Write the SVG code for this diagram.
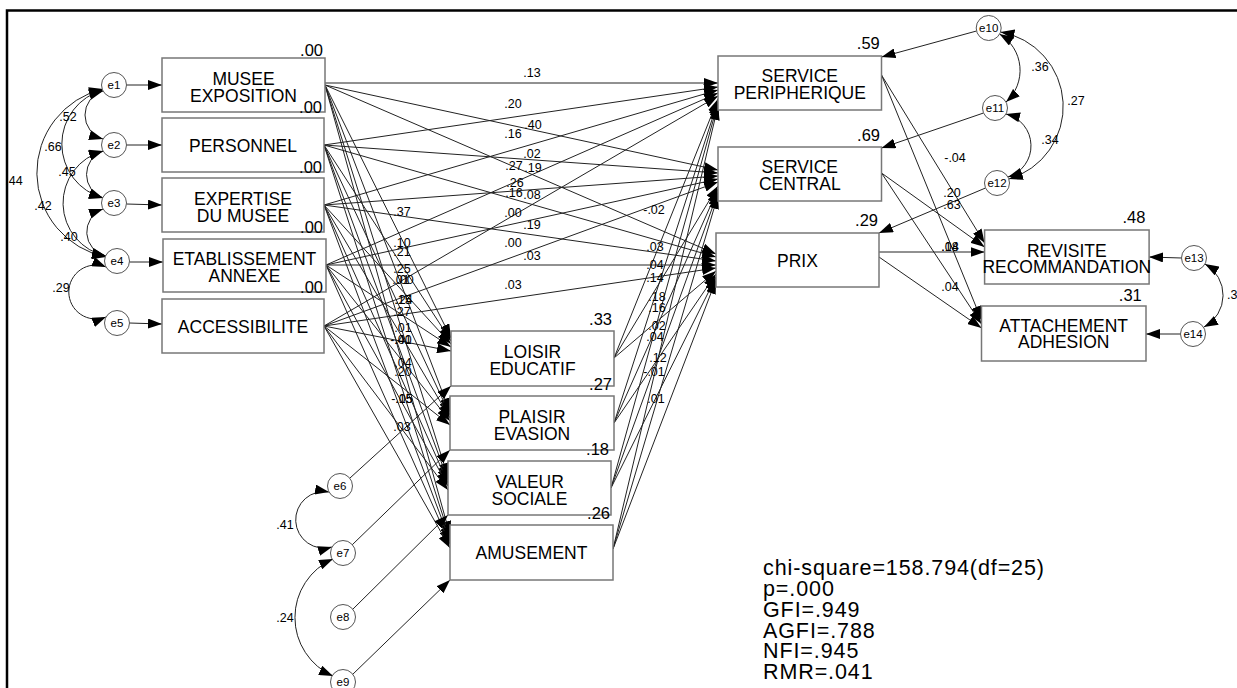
<svg xmlns="http://www.w3.org/2000/svg" width="1237" height="688" viewBox="0 0 1237 688">
<defs>
<marker id="ah" viewBox="0 0 14 10" refX="14" refY="5" markerWidth="14" markerHeight="10" markerUnits="userSpaceOnUse" orient="auto-start-reverse"><path d="M0,0 L14,5 L0,10 z" fill="#000"/></marker>
<style>
text{font-family:"Liberation Sans",Arial,sans-serif;fill:#000}
.box{fill:#fff;stroke:#777;stroke-width:1.5}
.bl{font-size:17.5px;text-anchor:middle}
.r2{font-size:16.5px;text-anchor:end}
.pl{font-size:12.5px;text-anchor:middle}
.ec{fill:#fff;stroke:#555;stroke-width:1}
.et{font-size:11.5px;text-anchor:middle}
.p{stroke:#222;stroke-width:1;fill:none;marker-end:url(#ah)}
.cv{stroke:#222;stroke-width:1;fill:none;marker-start:url(#ah);marker-end:url(#ah)}
.fit{font-size:21.5px;letter-spacing:0.9px}
</style>
</defs>
<rect x="0" y="0" width="1237" height="688" fill="#fff"/>
<g id="frame"><path d="M7,688 L7,10.5 L1237,10.5" fill="none" stroke="#000" stroke-width="2.5"/></g>

<g id="connectors">
<!-- error arrows left -->
<line class="p" x1="126.5" y1="85" x2="162" y2="85"/>
<line class="p" x1="126.5" y1="145" x2="162" y2="145"/>
<line class="p" x1="126.5" y1="204" x2="162" y2="205"/>
<line class="p" x1="129.5" y1="262" x2="163" y2="262"/>
<line class="p" x1="129.5" y1="323" x2="162" y2="324"/>
<!-- covariances left -->
<path class="cv" d="M103,91 A25,25 0 0 0 103,139"/>
<path class="cv" d="M103,90 A56,56 0 0 0 103,198"/>
<path class="cv" d="M103,89 A86,86 0 0 0 106,257"/>
<path class="cv" d="M103,151 A25,25 0 0 0 103,198"/>
<path class="cv" d="M103,151 A54,54 0 0 0 106,256"/>
<path class="cv" d="M103,209 A24.5,24.5 0 0 0 106,256"/>
<path class="cv" d="M106,267 A27,27 0 1 0 106,317"/>
<!-- exogenous to service peripherique -->
<line class="p" x1="325" y1="83" x2="718" y2="83"/>
<line class="p" x1="324" y1="145" x2="718" y2="87"/>
<line class="p" x1="324" y1="205" x2="718" y2="90"/>
<line class="p" x1="326" y1="265" x2="718" y2="93"/>
<line class="p" x1="324" y1="326" x2="718" y2="96"/>
<!-- to service central -->
<line class="p" x1="325" y1="85" x2="718" y2="170"/>
<line class="p" x1="324" y1="145" x2="718" y2="173"/>
<line class="p" x1="324" y1="205" x2="718" y2="176"/>
<line class="p" x1="326" y1="265" x2="718" y2="179"/>
<line class="p" x1="324" y1="326" x2="718" y2="182"/>
<!-- to prix -->
<line class="p" x1="325" y1="85" x2="716" y2="254"/>
<line class="p" x1="324" y1="145" x2="716" y2="257"/>
<line class="p" x1="324" y1="205" x2="716" y2="261"/>
<line class="p" x1="326" y1="265" x2="716" y2="265"/>
<line class="p" x1="324" y1="326" x2="716" y2="268"/>
<!-- to loisir -->
<line class="p" x1="325" y1="85" x2="451" y2="338"/>
<line class="p" x1="324" y1="145" x2="451" y2="341"/>
<line class="p" x1="324" y1="205" x2="451" y2="344"/>
<line class="p" x1="326" y1="265" x2="451" y2="347"/>
<line class="p" x1="324" y1="326" x2="451" y2="351"/>
<!-- to plaisir -->
<line class="p" x1="325" y1="85" x2="450" y2="412"/>
<line class="p" x1="324" y1="145" x2="450" y2="415"/>
<line class="p" x1="324" y1="205" x2="450" y2="418"/>
<line class="p" x1="326" y1="265" x2="450" y2="421"/>
<line class="p" x1="324" y1="326" x2="450" y2="425"/>
<!-- to valeur -->
<line class="p" x1="325" y1="85" x2="448" y2="477"/>
<line class="p" x1="324" y1="145" x2="448" y2="480"/>
<line class="p" x1="324" y1="205" x2="448" y2="483"/>
<line class="p" x1="326" y1="265" x2="448" y2="486"/>
<line class="p" x1="324" y1="326" x2="448" y2="490"/>
<!-- to amusement -->
<line class="p" x1="325" y1="85" x2="450" y2="535"/>
<line class="p" x1="324" y1="145" x2="450" y2="538"/>
<line class="p" x1="324" y1="205" x2="450" y2="541"/>
<line class="p" x1="326" y1="265" x2="450" y2="544"/>
<line class="p" x1="324" y1="326" x2="450" y2="548"/>
<!-- mediators to right column -->
<line class="p" x1="614" y1="358" x2="718" y2="99"/>
<line class="p" x1="614" y1="423" x2="718" y2="101"/>
<line class="p" x1="611" y1="488" x2="718" y2="103"/>
<line class="p" x1="613" y1="549" x2="718" y2="106"/>
<line class="p" x1="614" y1="358" x2="718" y2="186"/>
<line class="p" x1="614" y1="423" x2="718" y2="189"/>
<line class="p" x1="611" y1="488" x2="718" y2="192"/>
<line class="p" x1="613" y1="549" x2="718" y2="195"/>
<line class="p" x1="614" y1="358" x2="716" y2="271"/>
<line class="p" x1="614" y1="423" x2="716" y2="274"/>
<line class="p" x1="611" y1="488" x2="716" y2="277"/>
<line class="p" x1="613" y1="549" x2="716" y2="280"/>
<!-- error arrows bottom -->
<line class="p" x1="350" y1="478" x2="451" y2="386"/>
<line class="p" x1="352" y1="545" x2="450" y2="450"/>
<line class="p" x1="352" y1="610" x2="448" y2="515"/>
<line class="p" x1="352" y1="675" x2="450" y2="580"/>
<path class="cv" d="M329,492 A28.3,28.3 0 1 0 332,547"/>
<path class="cv" d="M333,559 A64,64 0 0 0 333,676"/>
<!-- right column to outcomes -->
<line class="p" x1="881.5" y1="75" x2="984.6" y2="243"/>
<line class="p" x1="881.5" y1="75" x2="981.5" y2="320"/>
<line class="p" x1="881.5" y1="173" x2="984.6" y2="247"/>
<line class="p" x1="881.5" y1="173" x2="981.5" y2="324"/>
<line class="p" x1="879" y1="252" x2="984.6" y2="252"/>
<line class="p" x1="879" y1="257" x2="981.5" y2="328"/>
<!-- error arrows right -->
<line class="p" x1="976.5" y1="31" x2="881.5" y2="57"/>
<line class="p" x1="983.5" y1="113" x2="881.5" y2="148"/>
<line class="p" x1="985.5" y1="188" x2="879" y2="233"/>
<line class="p" x1="1181.5" y1="258" x2="1149" y2="257"/>
<line class="p" x1="1180.5" y1="334" x2="1146" y2="334"/>
<path class="cv" d="M999.5,34 A42.5,42.5 0 0 1 1006,102"/>
<path class="cv" d="M1006,114 A32.7,32.7 0 0 1 1008,177"/>
<path class="cv" d="M1000.5,32 A75.6,75.6 0 0 1 1009,179"/>
<path class="cv" d="M1205,264 A36,36 0 0 1 1204,327"/>
</g>

<g id="path-labels" class="pl">
<text x="68" y="121">.52</text><text x="53" y="151">.66</text><text x="14" y="185">.44</text>
<text x="67" y="176">.45</text><text x="43" y="210">.42</text><text x="69" y="241">.40</text><text x="61" y="292">.29</text>
<text x="532" y="77">.13</text><text x="513" y="108">.20</text><text x="533" y="129">.40</text>
<text x="513" y="138">.16</text><text x="532" y="158">.02</text><text x="514" y="170">.27</text>
<text x="533" y="172">.19</text><text x="515" y="187">.26</text><text x="514" y="197">.16</text>
<text x="532" y="199">.08</text><text x="513" y="217">.00</text><text x="532" y="229">.19</text>
<text x="513" y="247">.00</text><text x="532" y="260">.03</text><text x="513" y="289">.03</text>
<text x="402" y="216">.37</text><text x="402" y="247">.10</text><text x="402" y="256">.21</text>
<text x="402" y="273">.25</text><text x="401" y="284">.01</text><text x="405" y="284">.00</text>
<text x="403" y="304">.15</text><text x="404" y="304">.24</text><text x="402" y="316">.27</text>
<text x="403" y="332">.01</text><text x="403" y="344">.40</text><text x="401" y="344">-.01</text>
<text x="403" y="367">.04</text><text x="403" y="376">.20</text><text x="402" y="403">-.15</text>
<text x="404" y="403">.05</text><text x="402" y="431">.03</text>
<text x="654" y="214">-.02</text><text x="655" y="251">.03</text><text x="655" y="269">.04</text>
<text x="655" y="282">.14</text><text x="657" y="301">.18</text><text x="657" y="312">.16</text>
<text x="657" y="330">.02</text><text x="655" y="341">.04</text><text x="658" y="362">.12</text>
<text x="654" y="376">-.01</text><text x="656" y="403">.01</text>
<text x="955" y="162">-.04</text><text x="952" y="197">.20</text><text x="952" y="209">.63</text>
<text x="950" y="251">.14</text><text x="950" y="251">.08</text><text x="950" y="291">.04</text>
<text x="1040" y="71">.36</text><text x="1076" y="105">.27</text><text x="1050" y="144">.34</text>
<text x="285" y="529">.41</text><text x="285" y="622">.24</text>
<text x="1227" y="299" style="text-anchor:start">.3</text>
</g>

<g id="e1"><circle class="ec" cx="114" cy="85" r="12.5"/><text class="et" x="114" y="89">e1</text></g>
<g id="e2"><circle class="ec" cx="114" cy="145" r="12.5"/><text class="et" x="114" y="149">e2</text></g>
<g id="e3"><circle class="ec" cx="114" cy="203" r="12.5"/><text class="et" x="114" y="207">e3</text></g>
<g id="e4"><circle class="ec" cx="117" cy="261" r="12.5"/><text class="et" x="117" y="265">e4</text></g>
<g id="e5"><circle class="ec" cx="117" cy="323" r="12.5"/><text class="et" x="117" y="327">e5</text></g>
<g id="e6"><circle class="ec" cx="340" cy="486" r="12.5"/><text class="et" x="340" y="490">e6</text></g>
<g id="e7"><circle class="ec" cx="343" cy="553" r="12.5"/><text class="et" x="343" y="557">e7</text></g>
<g id="e8"><circle class="ec" cx="343" cy="617" r="12.5"/><text class="et" x="343" y="621">e8</text></g>
<g id="e9"><circle class="ec" cx="343" cy="682" r="12.5"/><text class="et" x="343" y="686">e9</text></g>
<g id="e10"><circle class="ec" cx="988.7" cy="28" r="12.5"/><text class="et" x="988.7" y="32">e10</text></g>
<g id="e11"><circle class="ec" cx="995" cy="108" r="12.5"/><text class="et" x="995" y="112">e11</text></g>
<g id="e12"><circle class="ec" cx="997" cy="183" r="12.5"/><text class="et" x="997" y="187">e12</text></g>
<g id="e13"><circle class="ec" cx="1194" cy="258" r="12.5"/><text class="et" x="1194" y="262">e13</text></g>
<g id="e14"><circle class="ec" cx="1193" cy="334" r="12.5"/><text class="et" x="1193" y="338">e14</text></g>

<g id="musee"><rect class="box" x="162" y="58" width="163" height="54"/><text class="bl" x="243.5" y="85">MUSEE</text><text class="bl" x="243.5" y="102">EXPOSITION</text><text class="r2" x="323" y="56">.00</text></g>
<g id="personnel"><rect class="box" x="162" y="118" width="162" height="54"/><text class="bl" x="243" y="152">PERSONNEL</text><text class="r2" x="322" y="113">.00</text></g>
<g id="expertise"><rect class="box" x="162" y="178" width="162" height="54"/><text class="bl" x="243" y="205">EXPERTISE</text><text class="bl" x="243" y="222">DU MUSEE</text><text class="r2" x="322" y="173">.00</text></g>
<g id="etablissement"><rect class="box" x="163" y="239" width="163" height="53"/><text class="bl" x="244.5" y="265">ETABLISSEMENT</text><text class="bl" x="244.5" y="282">ANNEXE</text><text class="r2" x="323" y="233">.00</text></g>
<g id="accessibilite"><rect class="box" x="162" y="299" width="162" height="54"/><text class="bl" x="243" y="333">ACCESSIBILITE</text><text class="r2" x="323" y="293">.00</text></g>

<g id="loisir"><rect class="box" x="451" y="331" width="163" height="55"/><text class="bl" x="532.5" y="358">LOISIR</text><text class="bl" x="532.5" y="375">EDUCATIF</text><text class="r2" x="612" y="325">.33</text></g>
<g id="plaisir"><rect class="box" x="450" y="396" width="164" height="54"/><text class="bl" x="532" y="423">PLAISIR</text><text class="bl" x="532" y="440">EVASION</text><text class="r2" x="612" y="390">.27</text></g>
<g id="valeur"><rect class="box" x="448" y="461" width="163" height="54"/><text class="bl" x="529.5" y="488">VALEUR</text><text class="bl" x="529.5" y="505">SOCIALE</text><text class="r2" x="609" y="455">.18</text></g>
<g id="amusement"><rect class="box" x="450" y="525" width="163" height="55"/><text class="bl" x="531.5" y="559">AMUSEMENT</text><text class="r2" x="610" y="519">.26</text></g>

<g id="service-peripherique"><rect class="box" x="718" y="56" width="163.5" height="54"/><text class="bl" x="799.8" y="82">SERVICE</text><text class="bl" x="799.8" y="99">PERIPHERIQUE</text><text class="r2" x="879.8" y="49">.59</text></g>
<g id="service-central"><rect class="box" x="718" y="147" width="163.5" height="54"/><text class="bl" x="799.8" y="173">SERVICE</text><text class="bl" x="799.8" y="190">CENTRAL</text><text class="r2" x="880" y="141">.69</text></g>
<g id="prix"><rect class="box" x="716" y="233" width="163" height="54"/><text class="bl" x="797.5" y="267">PRIX</text><text class="r2" x="878" y="226">.29</text></g>
<g id="revisite"><rect class="box" x="984.6" y="230" width="164.5" height="54"/><text class="bl" x="1066.8" y="257">REVISITE</text><text class="bl" x="1066.8" y="273">RECOMMANDATION</text><text class="r2" x="1145.4" y="223">.48</text></g>
<g id="attachement"><rect class="box" x="981.5" y="306" width="164.5" height="55"/><text class="bl" x="1063.7" y="332">ATTACHEMENT</text><text class="bl" x="1063.7" y="348">ADHESION</text><text class="r2" x="1141.8" y="301">.31</text></g>

<g id="fit-stats" class="fit">
<text x="763" y="575">chi-square=158.794(df=25)</text>
<text x="763" y="596">p=.000</text>
<text x="763" y="617">GFI=.949</text>
<text x="763" y="638">AGFI=.788</text>
<text x="763" y="658">NFI=.945</text>
<text x="763" y="679">RMR=.041</text>
</g>
</svg>
